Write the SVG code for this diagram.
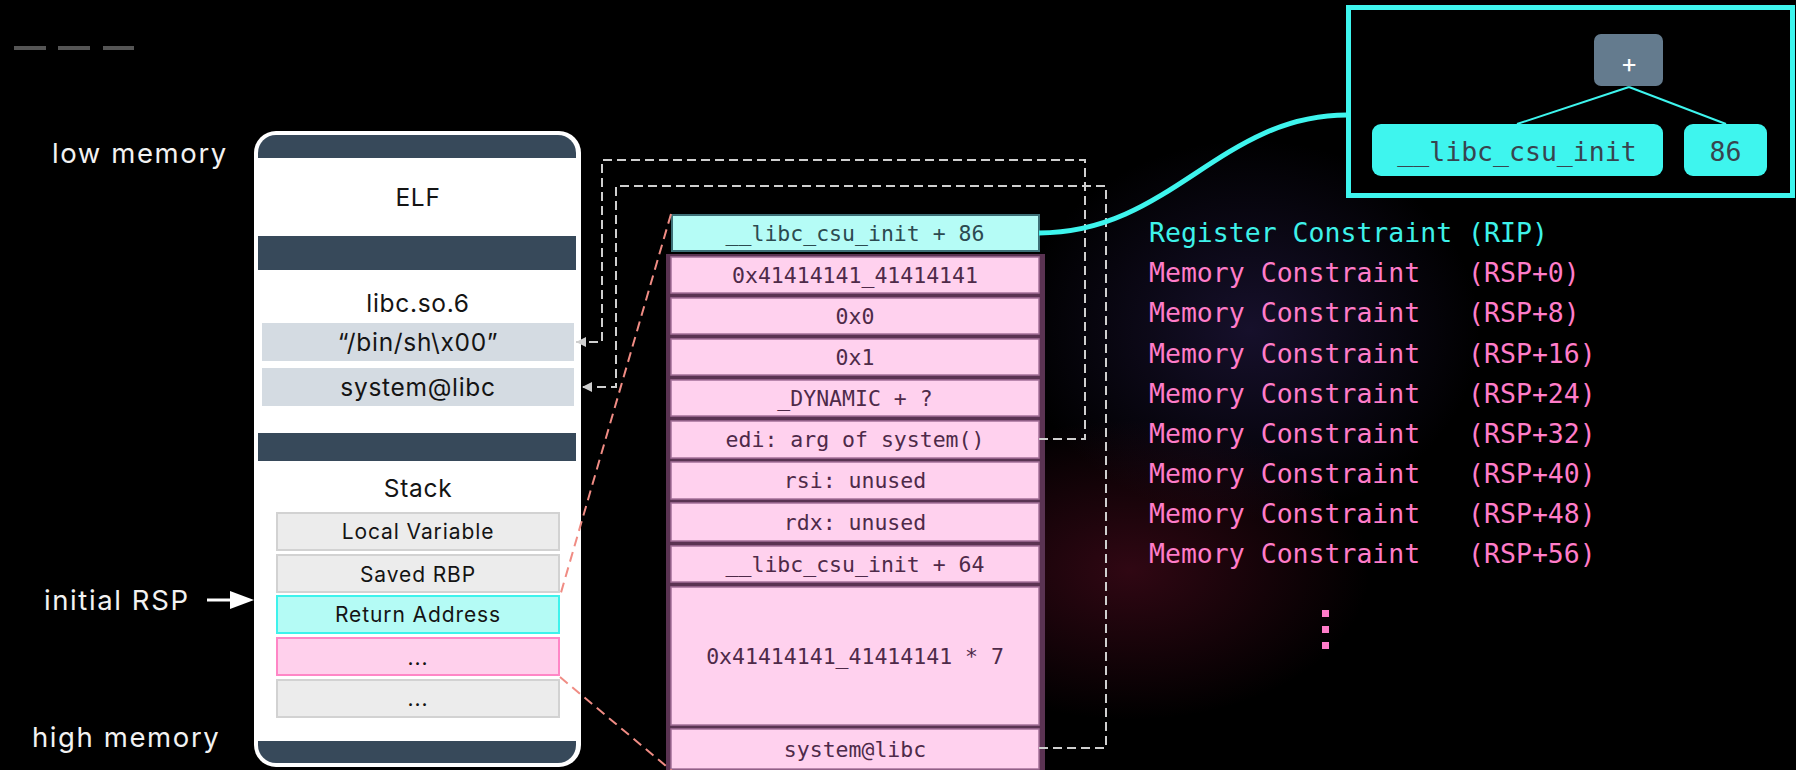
<svg xmlns="http://www.w3.org/2000/svg" width="1796" height="770" viewBox="0 0 1796 770">
<defs>
<style>
.sans{font-family:Inter,"Noto Sans","DejaVu Sans",sans-serif}
.mono{font-family:"DejaVu Sans Mono","Liberation Mono",monospace}
.lbl{fill:#f2f2f2;font-size:27.5px;letter-spacing:1.6px}
.pt{fill:#141414;font-size:24.5px;text-anchor:middle;letter-spacing:0.7px}
.st{fill:#141414;font-size:21px;text-anchor:middle;letter-spacing:0.9px}
.bar{fill:#37495a}
.lib{fill:#d4dbe2}
.gb{fill:#ececec;stroke:#d2d2d2;stroke-width:2}
.cell{fill:#ffd1ee;stroke:#a47099;stroke-width:1.5}
.ct{fill:#4e2a49;font-size:21.5px;text-anchor:middle}
.dash{fill:none;stroke:#cfcfcf;stroke-width:2;stroke-dasharray:9 5}
.sal{fill:none;stroke:#f08c84;stroke-width:2;stroke-dasharray:10 6}
.mc{fill:#ff7cc9;font-size:26.5px;white-space:pre}
.rc{fill:#3ef2ea;font-size:26.5px;white-space:pre}
.tn{fill:#3ef5ee}
.tt{fill:#38444f;font-size:26.5px;text-anchor:middle}
</style>
<marker id="ah" viewBox="0 0 10 10" refX="10" refY="5" markerWidth="10" markerHeight="10" markerUnits="userSpaceOnUse" orient="auto"><path d="M0,0 L10,5 L0,10 z" fill="#cfcfcf"/></marker>
<radialGradient id="g1"><stop offset="0" stop-color="#4a3590" stop-opacity="0.3"/><stop offset="1" stop-color="#4a3590" stop-opacity="0"/></radialGradient>
<radialGradient id="g2"><stop offset="0" stop-color="#a01840" stop-opacity="0.3"/><stop offset="1" stop-color="#a01840" stop-opacity="0"/></radialGradient>
</defs>
<rect width="1796" height="770" fill="#000"/>
<ellipse cx="1250" cy="330" rx="230" ry="190" fill="url(#g1)"/>
<ellipse cx="1130" cy="570" rx="240" ry="150" fill="url(#g2)"/>

<g id="dashes-top" fill="#555">
<rect x="14" y="46" width="32" height="4"/>
<rect x="58" y="46" width="32" height="4"/>
<rect x="103" y="46" width="31" height="4"/>
</g>

<g id="labels" class="sans lbl">
<text x="52" y="163">low memory</text>
<text x="44" y="610">initial RSP</text>
<text x="32" y="747">high memory</text>
</g>
<g id="rsp-arrow">
<line x1="207" y1="600" x2="232" y2="600" stroke="#fff" stroke-width="3"/>
<path d="M230,591 L254,600 L230,609 z" fill="#fff"/>
</g>

<g id="memory-map" class="sans">
<rect x="254" y="131" width="327" height="636" rx="22" fill="#fff"/>
<path class="bar" d="M258,158 V153 A18,18 0 0 1 276,135 H558 A18,18 0 0 1 576,153 V158 z"/>
<rect class="bar" x="258" y="236" width="318" height="34"/>
<rect class="bar" x="258" y="433" width="318" height="28"/>
<path class="bar" d="M258,741 H576 V745 A18,18 0 0 1 558,763 H276 A18,18 0 0 1 258,745 z"/>
<text class="pt" x="418" y="206">ELF</text>
<text class="pt" x="418" y="312">libc.so.6</text>
<rect class="lib" x="262" y="323" width="312" height="38"/>
<text class="pt" x="418" y="351">“/bin/sh\x00”</text>
<rect class="lib" x="262" y="368" width="312" height="38"/>
<text class="pt" x="418" y="396">system@libc</text>
<text class="pt" x="418" y="497">Stack</text>
<rect class="gb" x="277" y="513" width="282" height="37"/>
<text class="st" x="418" y="539">Local Variable</text>
<rect class="gb" x="277" y="555" width="282" height="37"/>
<text class="st" x="418" y="582">Saved RBP</text>
<rect x="277" y="596" width="282" height="37" fill="#b4fbf5" stroke="#3ef2ec" stroke-width="2"/>
<text class="st" x="418" y="622">Return Address</text>
<rect x="277" y="638" width="282" height="37" fill="#ffd0ec" stroke="#ff86c6" stroke-width="2"/>
<text class="st" x="418" y="665">...</text>
<rect class="gb" x="277" y="680" width="282" height="37"/>
<text class="st" x="418" y="706">...</text>
</g>

<g id="payload" class="mono">
<rect x="672" y="215" width="367" height="36" fill="#b5fcf6" stroke="#3d7077" stroke-width="2"/>
<text x="855" y="241" font-size="21.5px" fill="#2c4a50" text-anchor="middle">__libc_csu_init + 86</text>
<rect x="666" y="254" width="379" height="520" fill="#5a3352"/>
<rect class="cell" x="671" y="257" width="368" height="36"/>
<text class="ct" x="855" y="283">0x41414141_41414141</text>
<rect class="cell" x="671" y="298" width="368" height="36"/>
<text class="ct" x="855" y="324">0x0</text>
<rect class="cell" x="671" y="339" width="368" height="36"/>
<text class="ct" x="855" y="365">0x1</text>
<rect class="cell" x="671" y="380" width="368" height="36"/>
<text class="ct" x="855" y="406">_DYNAMIC + ?</text>
<rect class="cell" x="671" y="421" width="368" height="37"/>
<text class="ct" x="855" y="447">edi: arg of system()</text>
<rect class="cell" x="671" y="462" width="368" height="37"/>
<text class="ct" x="855" y="488">rsi: unused</text>
<rect class="cell" x="671" y="503" width="368" height="38"/>
<text class="ct" x="855" y="530">rdx: unused</text>
<rect class="cell" x="671" y="546" width="368" height="36"/>
<text class="ct" x="855" y="572">__libc_csu_init + 64</text>
<rect class="cell" x="671" y="587" width="368" height="138"/>
<text class="ct" x="855" y="664">0x41414141_41414141 * 7</text>
<rect class="cell" x="671" y="729" width="368" height="40"/>
<text class="ct" x="855" y="757">system@libc</text>
</g>

<g id="expr-tree">
<rect x="1348.5" y="7.5" width="444" height="188" fill="#000" stroke="#3ef5ee" stroke-width="5"/>
<line x1="1629" y1="87" x2="1517" y2="124" stroke="#3ef5ee" stroke-width="2"/>
<line x1="1629" y1="87" x2="1726" y2="124" stroke="#3ef5ee" stroke-width="2"/>
<rect x="1594" y="34" width="69" height="52" rx="7" fill="#647b8e"/>
<text class="sans" x="1629" y="72" font-size="26px" fill="#fff" text-anchor="middle">+</text>
<rect class="tn" x="1372" y="124" width="291" height="52" rx="9"/>
<text class="mono tt" x="1517" y="161">__libc_csu_init</text>
<rect class="tn" x="1684" y="124" width="83" height="52" rx="9"/>
<text class="mono tt" x="1725.5" y="161">86</text>
</g>

<g id="constraints" class="mono">
<text class="rc" x="1149" y="242">Register Constraint (RIP)</text>
<text class="mc" x="1149" y="282" xml:space="preserve">Memory Constraint&#160;&#160;&#160;(RSP+0)</text>
<text class="mc" x="1149" y="322" xml:space="preserve">Memory Constraint&#160;&#160;&#160;(RSP+8)</text>
<text class="mc" x="1149" y="363" xml:space="preserve">Memory Constraint&#160;&#160;&#160;(RSP+16)</text>
<text class="mc" x="1149" y="403" xml:space="preserve">Memory Constraint&#160;&#160;&#160;(RSP+24)</text>
<text class="mc" x="1149" y="443" xml:space="preserve">Memory Constraint&#160;&#160;&#160;(RSP+32)</text>
<text class="mc" x="1149" y="483" xml:space="preserve">Memory Constraint&#160;&#160;&#160;(RSP+40)</text>
<text class="mc" x="1149" y="523" xml:space="preserve">Memory Constraint&#160;&#160;&#160;(RSP+48)</text>
<text class="mc" x="1149" y="563" xml:space="preserve">Memory Constraint&#160;&#160;&#160;(RSP+56)</text>
</g>
<g id="vdots" fill="#ff7cc9">
<rect x="1322" y="610" width="7" height="7"/>
<rect x="1322" y="626" width="7" height="7"/>
<rect x="1322" y="642" width="7" height="7"/>
</g>

<g id="connectors">
<path class="dash" d="M1039,439 H1085 V160 H602 V342 H576" marker-end="url(#ah)"/>
<path class="dash" d="M1039,748 H1106 V186 H616 V387 H582" marker-end="url(#ah)"/>
<line class="sal" x1="671" y1="214" x2="560" y2="596"/>
<line class="sal" x1="560" y1="677" x2="672" y2="771"/>
<path d="M1039,233 C1170,233 1220,115 1347,115" fill="none" stroke="#3ef5ee" stroke-width="5"/>
</g>
</svg>
